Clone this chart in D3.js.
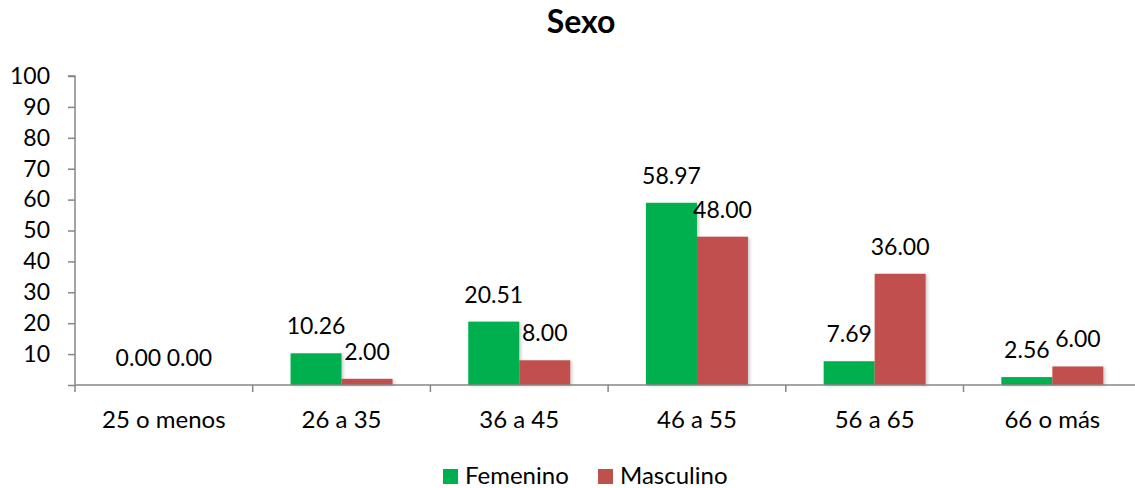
<!DOCTYPE html>
<html>
<head>
<meta charset="utf-8">
<script src="https://cdn.jsdelivr.net/npm/d3@7"></script>
<style>
  html, body { margin: 0; padding: 0; background: #fff; }
  svg { display: block; font-family: Lato, "Open Sans", sans-serif; }
</style>
</head>
<body>
<svg id="chart" width="1135" height="488"></svg>
<script>
// Age groups and the percentage of each sex in every group
const categories = ["25 o menos", "26 a 35", "36 a 45", "46 a 55", "56 a 65", "66 o más"];
const seriesNames = ["Femenino", "Masculino"];
const femenino = [0.00, 10.26, 20.51, 58.97, 7.69, 2.56];
const masculino = [0.00, 2.00, 8.00, 48.00, 36.00, 6.00];
const yTicks = [0, 10, 20, 30, 40, 50, 60, 70, 80, 90, 100];
const colors = ["#00B050", "#C0504D"];
const title = "Sexo";

const svg = d3.select("#chart");
const margin = { left: 75, top: 76, bottom: 385 };
const bandWidth = 177.7;
const numSize = 23;
const textSize = 24;

const x = d3.scaleBand()
  .domain(categories)
  .range([margin.left, margin.left + bandWidth * categories.length])
  .paddingInner(0)
  .paddingOuter(0);

// Two touching bars per group, with a wide gap on both sides
const x1 = d3.scaleBand()
  .domain(seriesNames)
  .range([0, x.bandwidth()])
  .paddingInner(0)
  .paddingOuter(0.742);

const y = d3.scaleLinear().domain([0, 100]).range([margin.bottom, margin.top]);

// Soft shadow behind the bars
const defs = svg.append("defs");
const f = defs.append("filter").attr("id", "shadow")
  .attr("x", "-10%").attr("y", "-10%").attr("width", "130%").attr("height", "130%");
f.append("feDropShadow").attr("dx", 2).attr("dy", 1).attr("stdDeviation", 1.5)
  .attr("flood-color", "#000").attr("flood-opacity", 0.18);

// Title
svg.append("text")
  .attr("x", 581).attr("y", 33)
  .attr("text-anchor", "middle")
  .attr("font-size", 32).attr("font-weight", "bold")
  .attr("fill", "#000")
  .text(title);

// Y axis
const yAxis = svg.append("g")
  .attr("transform", `translate(${margin.left},0)`)
  .call(d3.axisLeft(y).tickValues(yTicks).tickSize(7).tickPadding(18)
    .tickFormat(d => d === 0 ? "" : d));
yAxis.selectAll("text").attr("font-size", numSize).attr("fill", "#000")
  .attr("font-family", "Lato, 'Open Sans', sans-serif");
yAxis.selectAll("line, path").attr("stroke", "#868686").attr("stroke-width", 1.5);
yAxis.select(".domain").attr("d", `M-7,${y(100)}H0V${y(0)}`);

// Bars
const data = categories.map((c, i) => ({ cat: c, values: [femenino[i], masculino[i]] }));
const groups = svg.append("g").selectAll("g").data(data).join("g")
  .attr("transform", d => `translate(${x(d.cat)},0)`);

groups.selectAll("rect")
  .data(d => d.values.map((v, j) => ({ name: seriesNames[j], v, j })))
  .join("rect")
  .attr("x", d => x1(d.name))
  .attr("y", d => y(d.v))
  .attr("width", x1.bandwidth())
  .attr("height", d => y(0) - y(d.v))
  .attr("fill", d => colors[d.j])
  .attr("filter", "url(#shadow)");

groups.selectAll("text.val")
  .data(d => d.values.map((v, j) => ({ name: seriesNames[j], v, j })))
  .join("text")
  .attr("class", "val")
  .attr("x", d => x1(d.name) + x1.bandwidth() / 2)
  .attr("y", d => y(d.v) - 19)
  .attr("text-anchor", "middle")
  .attr("font-size", numSize)
  .attr("fill", "#000")
  .text(d => d.v.toFixed(2));

// X axis
const xAxis = svg.append("g")
  .attr("transform", `translate(0,${margin.bottom})`);
xAxis.append("line")
  .attr("x1", margin.left).attr("x2", x.range()[1])
  .attr("stroke", "#868686").attr("stroke-width", 1.5);
const boundaries = categories.map(c => x(c)).concat([x.range()[1]]);
xAxis.selectAll("line.tick").data(boundaries).join("line")
  .attr("class", "tick")
  .attr("x1", d => d).attr("x2", d => d)
  .attr("y1", 0).attr("y2", 7)
  .attr("stroke", "#868686").attr("stroke-width", 1.5);
xAxis.selectAll("text").data(categories).join("text")
  .attr("x", d => x(d) + x.bandwidth() / 2)
  .attr("y", 43)
  .attr("text-anchor", "middle")
  .attr("font-size", textSize)
  .attr("fill", "#000")
  .text(d => d);

// Legend
const legendX = [443, 598];
const legend = svg.append("g").selectAll("g").data(seriesNames).join("g")
  .attr("transform", (d, i) => `translate(${legendX[i]},469)`);
legend.append("rect")
  .attr("width", 15).attr("height", 15)
  .attr("fill", (d, i) => colors[i]);
legend.append("text")
  .attr("x", 22).attr("y", 15)
  .attr("font-size", textSize)
  .attr("fill", "#000")
  .text(d => d);
</script>
</body>
</html>
